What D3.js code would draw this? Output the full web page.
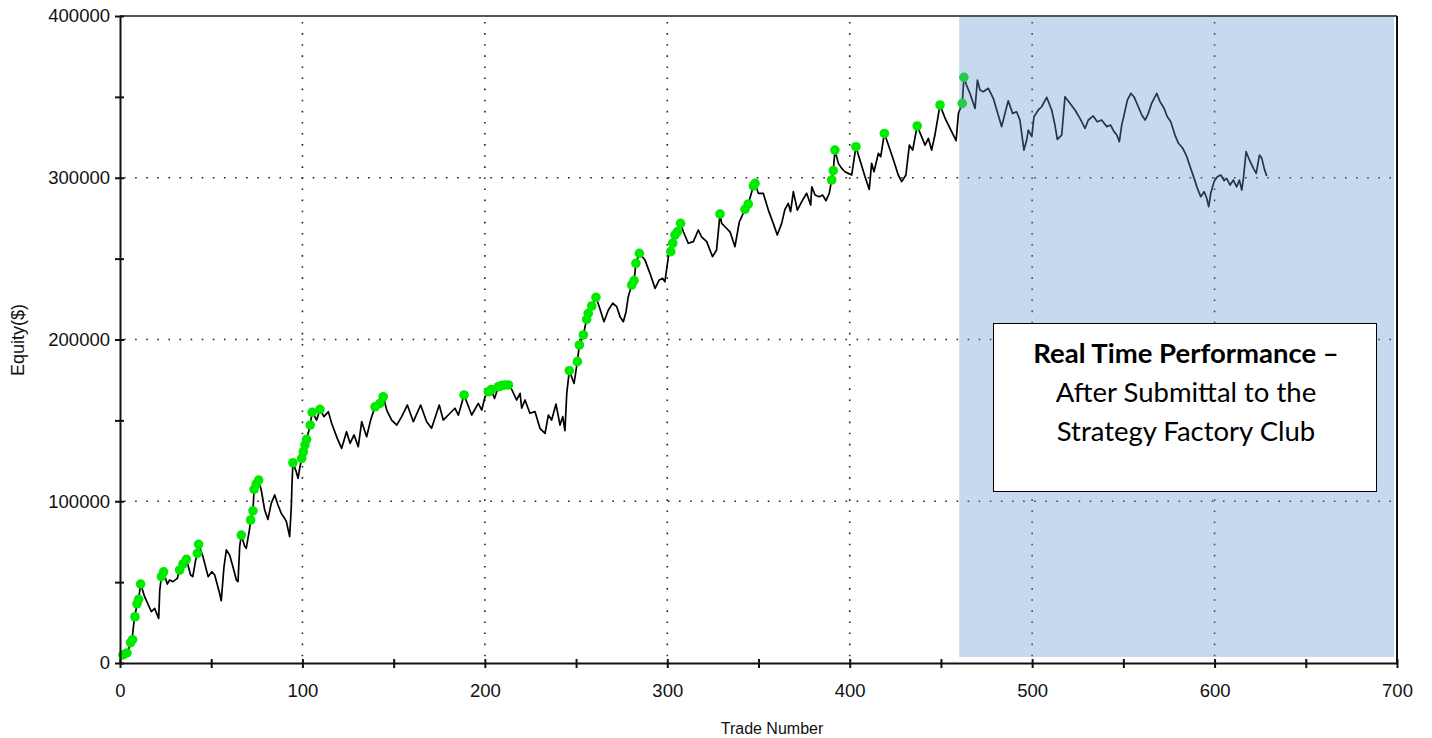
<!DOCTYPE html>
<html><head><meta charset="utf-8">
<script src="https://cdn.jsdelivr.net/npm/d3@7/dist/d3.min.js"></script>
<style>body{margin:0;background:#fff;} svg{display:block;}</style>
</head><body>
<svg id="chart" width="1432" height="738"></svg>
<script>
// ---------------- DATA ----------------
const xTicks = [0,50,100,150,200,250,300,350,400,450,500,550,600,650,700];
const yTicks = [0,50000,100000,150000,200000,250000,300000,350000,400000];
const xGrid = [100,200,300,400,500,600];
const yGrid = [100000,200000,300000];
const realTimeStart = 460;
const boxLines = ["Real Time Performance \u2013", "After Submittal to the", "Strategy Factory Club"];

// equity curve [trade number, equity $]
const equityCurve = [
[1,3500],[2.2,4300],[4,6000],[5.8,12200],[6.6,14600],[8,28600],[9.5,36900],[10.2,39400],[11.3,48800],
[13.5,41000],[17.2,31700],[19,33800],[21.2,27600],[21.8,45100],[22.7,53400],[23.9,56400],[25.9,48800],
[27.2,51300],[29,50300],[31.4,52300],[32.7,57500],[34.5,61200],[36.4,64100],[38.7,54400],[39.9,53400],
[41.5,63700],[42.4,67800],[43.1,73400],[45.5,65700],[48.3,53400],[50.4,56400],[51.9,54400],[54.6,43100],
[55.5,38500],[57,59500],[58.3,69900],[60.1,66800],[61.9,59500],[63.8,51300],[64.7,50300],[65.6,71900],
[66.5,79100],[68.3,72300],[69.2,70900],[71.1,83300],[71.6,88400],[72.9,94100],[73.5,107400],[74.7,110700],
[76,113100],[77.5,106500],[79.3,94600],[81.1,88800],[82.9,98700],[84.8,103900],[86.6,97700],[88.4,92500],
[90.3,89400],[91.2,87400],[93,78100],[93.9,96600],[94.3,111100],[94.8,123800],[96.6,118300],[97.6,114200],
[98.5,120400],[99.6,126500],[100.5,130600],[101.4,134800],[102.3,138300],[104.3,147100],[105.3,155000],
[107.8,150200],[109.6,156800],[111.8,152300],[114.2,155400],[116,148200],[119.1,138900],[121.5,132700],
[124.2,143000],[126.1,135800],[128.3,141000],[130.6,133700],[132.5,149200],[135.2,139900],[137.4,150200],
[139.8,158400],[142.5,160500],[144.3,164600],[146.2,156400],[148.9,150200],[151.7,147100],[154.4,152300],
[157.5,159500],[160.8,149200],[164.8,159500],[168.1,149200],[170.8,145100],[175,159500],[177.2,150200],
[180.9,154400],[183.6,157500],[185.5,153300],[188.6,165700],[192.8,153300],[196.4,160500],[198.3,156400],
[200.1,164600],[201.9,167700],[203.5,169000],[205.3,163500],[207.4,170800],[209,171500],[211,171900],
[212.9,171900],[214,170800],[217.4,162600],[219.3,166700],[220.2,157500],[222,162600],[224.7,154400],
[227.5,155400],[230.2,145100],[233,142000],[234.8,153300],[236.6,150200],[239,160100],[241.2,147100],
[242.7,152300],[243.9,143600],[244.9,166700],[246.3,180700],[248.9,172900],[250.7,186300],[251.8,196600],
[254,202800],[255.8,212500],[256.7,216200],[258.6,220700],[260.9,226100],[262.7,220300],[265.3,211000],
[267.7,218200],[270.1,222400],[272.3,220300],[274.1,214100],[275.9,211000],[277.4,217200],[278.6,226500],
[280.5,233700],[281.8,236400],[282.8,247100],[284.7,253300],[287.8,249100],[290.5,240900],[293.3,231600],
[295.6,236800],[297.5,237800],[298.7,235700],[300.6,251200],[301.9,254300],[303,259500],[304.2,264600],
[305.5,266600],[307.3,271800],[308.8,266600],[311.5,259500],[314.3,260500],[317,267700],[318.8,263500],
[321.6,260500],[324.8,251200],[327,255300],[328.9,277600],[329.8,271800],[331.6,269700],[334.4,266600],
[337.1,257400],[339.5,272800],[340.8,275900],[342.6,280500],[344.4,283800],[347.2,294900],[348.1,296500],
[349.9,290400],[352.6,290400],[355.4,280000],[358.1,271800],[360.3,264600],[362.7,271800],[364.5,280500],
[366.3,284200],[367.6,279000],[369.1,291400],[371.3,280000],[373.7,285200],[376.4,290400],[378.6,283100],
[379.2,294400],[381,289300],[383.3,288300],[385.2,289300],[387,285800],[388.8,290400],[390.1,298600],
[391,304400],[391.9,317100],[393.8,308900],[395.6,305800],[397.4,303700],[399.2,302700],[401.1,301700],
[403.4,319200],[405.6,311000],[408.4,300600],[410.7,292800],[412,308900],[413.3,303700],[415.7,315100],
[417,313000],[419,327400],[421.2,320200],[424,311000],[426.6,301700],[428.5,297600],[430.8,301700],
[432.7,320200],[434.5,317100],[437,332000],[439.4,325400],[441.3,320200],[443.1,324400],[444.9,317100],
[446.7,326400],[449.5,345000],[452.3,336700],[455,330500],[458.3,322900],[459.6,339800],[461.7,346000],
[462.6,362100],[464,357300],[465.9,352200],[468.7,342900],[470,360400],[471.4,354200],[473.2,353200],
[476,355300],[478.7,349100],[480.6,341900],[483.3,331600],[485.1,339800],[486.9,347600],[489.3,339800],
[491.5,340800],[493.3,335700],[495.5,317100],[497,323300],[497.9,329500],[499.8,325400],[501,337700],
[503.4,341900],[505.2,343900],[508,349700],[510.7,341900],[512.5,332600],[513.8,323700],[516.2,326400],
[518,350100],[520.7,346000],[523.5,341900],[526.2,336700],[529,330500],[530.8,335700],[533.5,338200],
[535.7,334600],[538.1,335700],[540.9,331600],[543,332600],[544.9,328500],[546.4,326400],[547.8,322300],
[549.1,332600],[550.4,338800],[552.2,348000],[554.1,352200],[555.8,350100],[558.2,343900],[560.1,338800],
[561.9,335700],[563.7,339800],[565.5,346000],[568.3,352200],[570.1,347100],[572.3,343000],[574.1,337700],
[576,334600],[578.3,326400],[580.2,321300],[582.6,318200],[584.8,313000],[586.6,306800],[588.8,299600],
[590.6,293400],[592.4,288300],[594.3,291400],[595.7,287300],[596.8,282100],[597.9,290400],[599.7,297600],
[601.5,300600],[603.4,301700],[605.2,298200],[606.6,299600],[608.5,295500],[610.3,298600],[612.1,294400],
[613.6,298600],[614.9,292400],[615.8,299600],[617.3,316100],[619.1,311000],[621.3,305800],[622.8,302700],
[624.6,314000],[625.9,312000],[627.2,305800],[628.6,301100]
];

// new equity highs [trade number, equity $]
const newHighs = [
[1.6,5000],[3.8,6200],[5.8,12600],[6.9,14400],[8.2,28600],[9.3,36600],[10.2,39400],[11.3,48800],
[22.7,53400],[23.9,56400],[32.7,57500],[34.5,61200],[36.4,64100],[42.4,67800],[43.1,73400],[66.5,79100],
[71.6,88400],[72.9,94100],[73.5,107400],[74.7,110700],[76,113100],[94.8,123800],[99.6,126500],
[100.5,130600],[101.4,134800],[102.3,138300],[104.3,147100],[105.3,155000],[109.6,156800],[139.8,158400],
[142.5,160500],[144.3,164600],[188.6,165700],[201.9,167700],[203.5,169000],[207.4,170800],[209,171500],
[211,171900],[212.9,171900],[246.3,180700],[250.7,186300],[251.8,196600],[254,202800],[255.8,212500],
[256.7,216200],[258.6,220700],[260.9,226100],[280.5,233700],[281.8,236400],[282.8,247100],[284.7,253300],
[301.9,254300],[303,259500],[304.2,264600],[305.5,266600],[307.3,271800],[328.9,277600],[342.6,280500],
[344.4,283800],[347.2,294900],[348.1,296500],[390.1,298600],[391,304400],[391.9,317100],[403.4,319200],
[419,327400],[437,332000],[449.5,345000],[461.7,346000],[462.6,362100]
];

// ---------------- CHART ----------------
const svg = d3.select("#chart");
const x = d3.scaleLinear().domain([0,700]).range([120,1397]);
const y = d3.scaleLinear().domain([0,400000]).range([663,16]);
const tickFont = "'Liberation Sans', Arial, sans-serif";

// grid
const grid = svg.append("g").attr("stroke","#222").attr("stroke-width",1.6).attr("stroke-dasharray","1.6 9.5");
grid.selectAll("line.v").data(xGrid).join("line").attr("class","v")
  .attr("x1",d=>x(d)).attr("x2",d=>x(d)).attr("y1",y(400000)+6).attr("y2",y(0));
grid.selectAll("line.h").data(yGrid).join("line").attr("class","h")
  .attr("x1",x(0)+4).attr("x2",x(700)).attr("y1",d=>y(d)).attr("y2",d=>y(d));

// equity line
const line = d3.line().x(d=>x(d[0])).y(d=>y(d[1]));
svg.append("path").datum(equityCurve).attr("d",line)
  .attr("fill","none").attr("stroke","#000").attr("stroke-width",1.7).attr("stroke-linejoin","round");

// new highs
svg.append("g").selectAll("circle").data(newHighs).join("circle")
  .attr("cx",d=>x(d[0])).attr("cy",d=>y(d[1])).attr("r",4.8).attr("fill","#00ea00");

// real time overlay
svg.append("rect").attr("x",x(realTimeStart)).attr("y",y(400000))
  .attr("width",1394-x(realTimeStart)).attr("height",657-y(400000))
  .attr("fill","rgb(100,150,210)").attr("fill-opacity",0.36);

// frame (top & right)
svg.append("line").attr("x1",x(0)).attr("x2",x(700)).attr("y1",y(400000)).attr("y2",y(400000))
  .attr("stroke","#555").attr("stroke-width",2);
svg.append("line").attr("x1",x(700)).attr("x2",x(700)).attr("y1",y(400000)).attr("y2",y(0))
  .attr("stroke","#111").attr("stroke-width",2);

// x axis
const gx = svg.append("g").attr("transform",`translate(0,${y(0)})`)
  .call(d3.axisBottom(x).tickValues(xTicks).tickFormat(d=>d%100===0?d:"").tickSizeOuter(0));
gx.select(".domain").attr("stroke","#111").attr("stroke-width",2);
gx.selectAll(".tick line").attr("y1",-4).attr("y2",5).attr("stroke","#111").attr("stroke-width",2);
gx.selectAll(".tick text").attr("y",21).attr("font-family",tickFont).attr("font-size",18.5).attr("fill","#111");

// y axis
const gy = svg.append("g").attr("transform",`translate(${x(0)},0)`)
  .call(d3.axisLeft(y).tickValues(yTicks).tickFormat(d=>d%100000===0?d3.format("d")(d):"").tickSizeOuter(0));
gy.select(".domain").attr("stroke","#111").attr("stroke-width",2);
gy.selectAll(".tick line").attr("x1",-5).attr("x2",4).attr("stroke","#111").attr("stroke-width",2);
gy.selectAll(".tick text").attr("x",-10).attr("font-family",tickFont).attr("font-size",18.5).attr("fill","#111");

// axis titles
svg.append("text").attr("x",772).attr("y",734).attr("text-anchor","middle")
  .attr("font-family",tickFont).attr("font-size",16).attr("fill","#111").text("Trade Number");
svg.append("text").attr("transform","translate(24,340) rotate(-90)").attr("text-anchor","middle")
  .attr("font-family",tickFont).attr("font-size",18).attr("fill","#111").text("Equity($)");

// annotation box
svg.append("rect").attr("x",993.5).attr("y",323.5).attr("width",383).attr("height",168)
  .attr("fill","#fff").attr("stroke","#000").attr("stroke-width",1);
const bx = 1186;
const bt = svg.append("g").attr("font-family","Lato, 'Open Sans', sans-serif").attr("font-size",27.5)
  .attr("text-anchor","middle").attr("fill","#000");
bt.selectAll("text").data(boxLines).join("text")
  .attr("x",bx).attr("y",(d,i)=>363+i*39).attr("font-weight",(d,i)=>i===0?"bold":"normal").text(d=>d);
</script>
</body></html>
